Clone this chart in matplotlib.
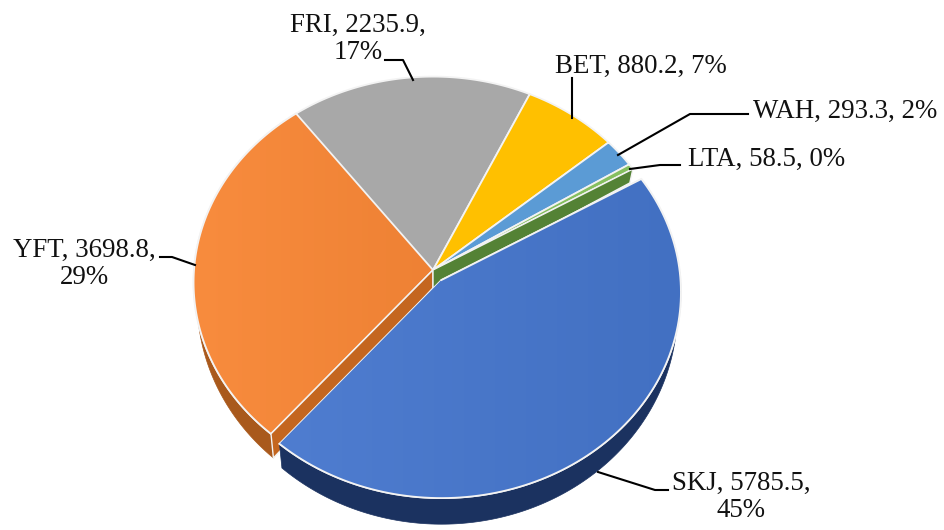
import numpy as np
import matplotlib.pyplot as plt
from matplotlib.colors import LinearSegmentedColormap

plt.rcParams['font.family'] = ['Liberation Serif', 'DejaVu Serif']

# data, clockwise from the LTA/SKJ boundary
names = ['SKJ', 'YFT', 'FRI', 'BET', 'WAH', 'LTA']
values = [5785.5, 3698.8, 2235.9, 880.2, 293.3, 58.5]

top_cols = ['#4a78cb', '#f5873a', '#a8a8a8', '#ffc000', '#5b9bd5', '#86bf5f']
side_cols = ['#1b3260', '#a9591c', '#7f7f7f', '#bf9000', '#2e75b6', '#548235']
grad_cols = {'SKJ': ('#4f7dd0', '#4270c2'), 'YFT': ('#f88c3e', '#ee8134')}

# label text placement, pixels
label_xy = [(741, 497), (84, 264), (358, 39), (641, 66), (845, 111), (767, 159)]
wrapped = ['SKJ', 'YFT', 'FRI']

leaders = {
    'SKJ': ([668, 655, 598], [490, 490, 472]),
    'YFT': ([160, 172, 195], [257, 257, 265]),
    'FRI': ([385, 403, 413], [60, 60, 80]),
    'BET': ([572, 572], [78, 118]),
    'WAH': ([748, 690, 618], [114, 114, 155]),
    'LTA': ([680, 660, 630], [165, 165, 169]),
}

# pie geometry
CX, CY = 433, 270
RX, RY = 239, 205
PERSP = 0.06
DEPTH = 18
SHRINK = 0.985
START = 30.5
SKJ_SHIFT = (8.5, 10)


def project(t, r=1.0, shift=(0, 0), bottom=False):
    # unit disc to screen pixels, back of the pie is a bit smaller
    u = r * np.cos(t)
    v = r * np.sin(t)
    w = 1 + PERSP * v
    x = RX * u / w
    y = CY + shift[1] - RY * v / w
    if bottom:
        x = x * SHRINK
        y = y + DEPTH * (1 - 0.45 * v)
    return CX + shift[0] + x, y


fig = plt.figure(figsize=(9.45, 5.30), dpi=100)
ax = fig.add_axes([0, 0, 1, 1])
ax.set_xlim(0, 945)
ax.set_ylim(530, 0)
ax.axis('off')

total = sum(values)
sweeps = [v / total * 2 * np.pi for v in values]
edges = np.deg2rad(START) - np.concatenate([[0], np.cumsum(sweeps)])
EDGE = '#f3f3f3'


def top_poly(i, shift=(0, 0)):
    t = np.linspace(edges[i], edges[i + 1], 120)
    x, y = project(t, shift=shift)
    cx, cy = project(0.0, 0.0, shift)
    return np.r_[cx, x], np.r_[cy, y]


def draw_top(i, shift=(0, 0)):
    x, y = top_poly(i, shift)
    poly = ax.fill(x, y, color=top_cols[i], ec=EDGE, lw=1.3, zorder=3 + i * 0.01 + (i == 0) * 2)[0]
    if names[i] in grad_cols:
        cmap = LinearSegmentedColormap.from_list('g', grad_cols[names[i]])
        im = ax.imshow(np.linspace(0, 1, 256)[None, :], cmap=cmap, aspect='auto',
                       extent=(x.min(), x.max(), y.max(), y.min()), zorder=poly.get_zorder())
        im.set_clip_path(poly)
        ax.plot(x, y, color=EDGE, lw=1.3, zorder=poly.get_zorder() + 0.001)
        ax.set_xlim(0, 945)
        ax.set_ylim(530, 0)


def draw_rim(i, col, shift=(0, 0), z=2):
    # only the part of the rim that faces the viewer
    a, b = edges[i + 1], edges[i]
    t = np.linspace(a, b, 200)
    t = t[np.sin(t) < 0.05]
    if len(t) == 0:
        return
    x1, y1 = project(t, shift=shift)
    x2, y2 = project(t, shift=shift, bottom=True)
    ax.fill(np.r_[x1, x2[::-1]], np.r_[y1, y2[::-1]], color=col, lw=0.5, zorder=z)


def draw_cut(t, col, z):
    x1, y1 = project(t)
    x2, y2 = project(t, bottom=True)
    cx1, cy1 = project(0.0, 0.0)
    cx2, cy2 = project(0.0, 0.0, bottom=True)
    ax.fill([cx1, x1, x2, cx2], [cy1, y1, y2, cy2], color=col, ec=EDGE, lw=1.0, zorder=z)


# remaining pie
draw_rim(1, side_cols[1])
for i in range(1, len(names)):
    draw_top(i)
draw_cut(edges[1], '#c4661f', 4)
draw_cut(edges[0], side_cols[5], 4)

# exploded slice
draw_rim(0, side_cols[0], SKJ_SHIFT, z=4.5)
draw_top(0, SKJ_SHIFT)

# leaders and labels
for i, n in enumerate(names):
    lx, ly = leaders[n]
    ax.plot(lx, ly, color='black', lw=1.5, zorder=6)
    pct = round(values[i] / total * 100)
    sep = ',\n' if n in wrapped else ', '
    txt = f'{n}, {values[i]}{sep}{pct}%'
    ax.text(label_xy[i][0], label_xy[i][1], txt, ha='center', va='center',
            fontsize=19.4, linespacing=1.13, color='#111111', zorder=7)

fig.savefig('out.png', dpi=100)
